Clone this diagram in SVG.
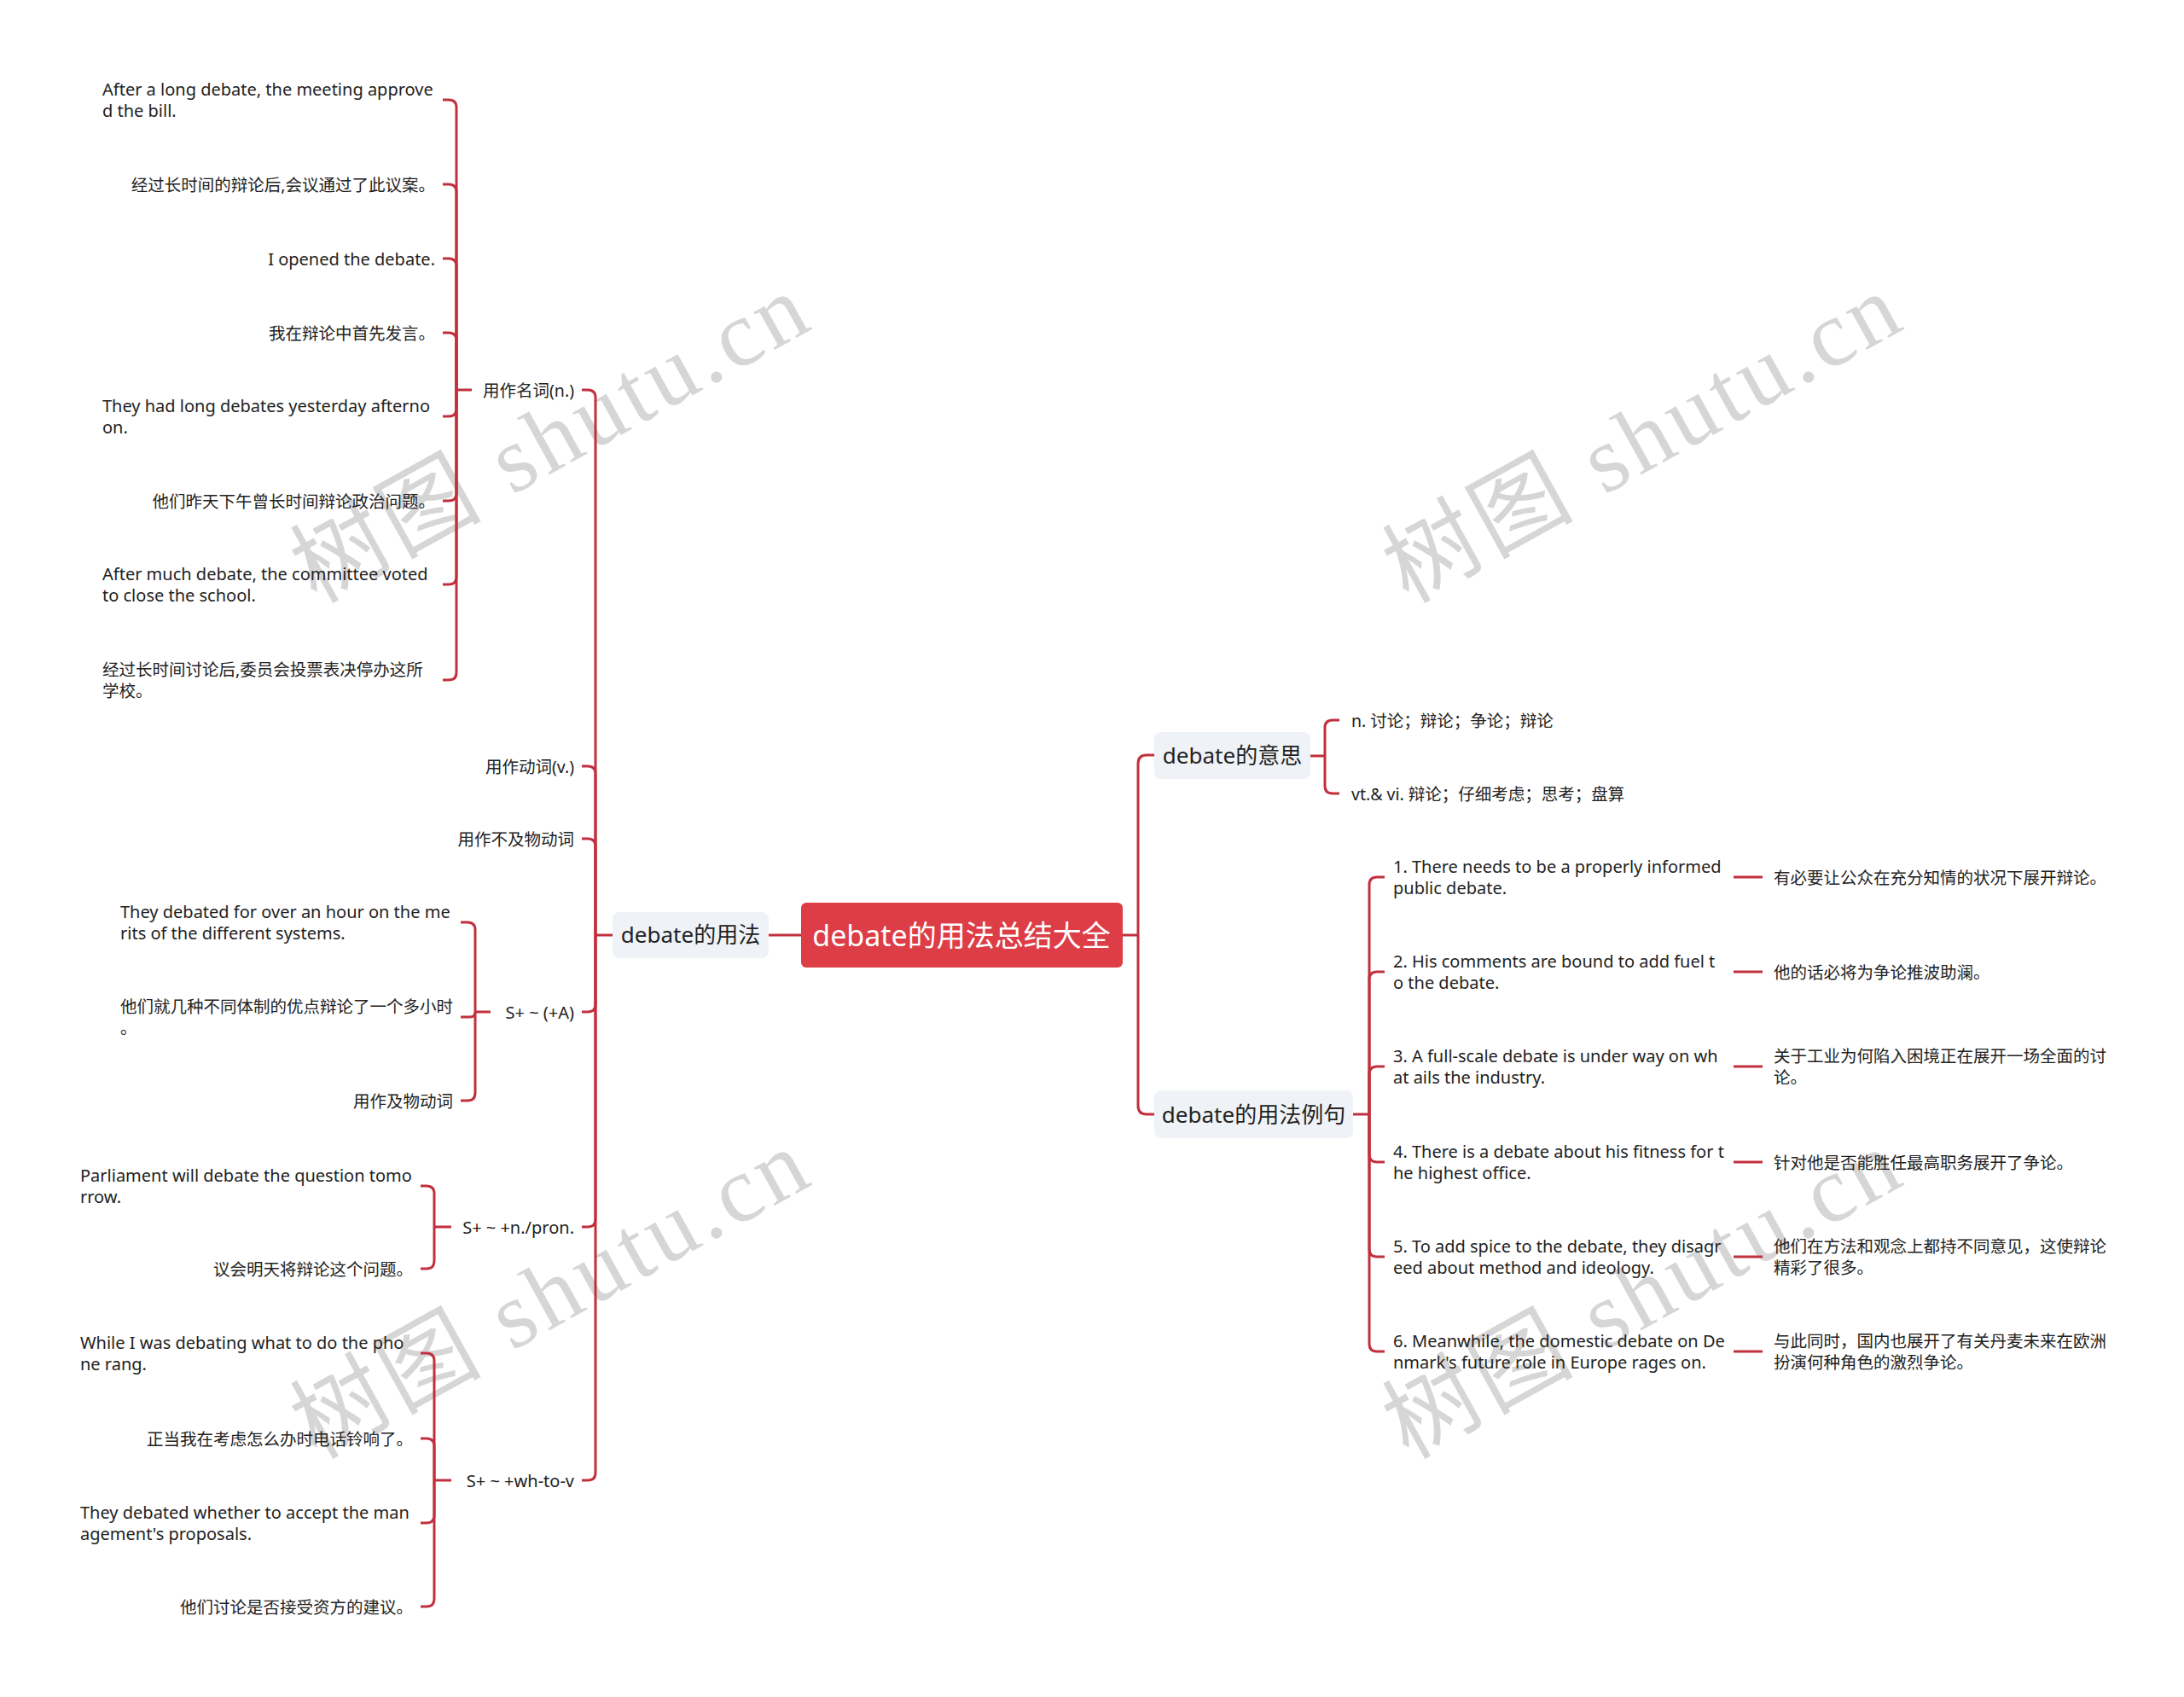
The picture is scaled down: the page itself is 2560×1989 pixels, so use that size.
<svg xmlns="http://www.w3.org/2000/svg" width="2560" height="1989" viewBox="0 0 2560 1989">
<style>
.t{font-family:"Noto Sans","Noto Sans CJK SC",sans-serif;font-size:20px;fill:#222}
.z{font-size:19.5px}
.e{text-anchor:end}
.l1{font-size:26px;fill:#222;text-anchor:middle}
.root{font-size:34px;fill:#fff;text-anchor:middle}
.box{fill:#eff2f6}
.rbox{fill:#dc3d46}
.c{fill:none;stroke:#c1303d;stroke-width:3}
.wm{font-family:"Liberation Serif","Noto Sans CJK SC",serif;font-size:110px;fill:#d6d6d6;letter-spacing:5px;text-anchor:middle}
</style>
<rect width="2560" height="1989" fill="#fff"/>
<g id="watermarks">
<text class="wm" transform="translate(645,510) rotate(-29)" x="0" y="40">树图 shutu.cn</text>
<text class="wm" transform="translate(1925,510) rotate(-29)" x="0" y="40">树图 shutu.cn</text>
<text class="wm" transform="translate(645,1513) rotate(-29)" x="0" y="40">树图 shutu.cn</text>
<text class="wm" transform="translate(1925,1513) rotate(-29)" x="0" y="40">树图 shutu.cn</text>
</g>
<g id="connectors">
<path class="c" d="M939 1096H901"/>
<path class="c" d="M718 1096H698"/>
<path class="c" d="M682 457H689Q698 457 698 466V1096"/>
<path class="c" d="M682 898H689Q698 898 698 907V1096"/>
<path class="c" d="M682 983H689Q698 983 698 992V1096"/>
<path class="c" d="M682 1186H689Q698 1186 698 1177V1096"/>
<path class="c" d="M682 1438H689Q698 1438 698 1429V1096"/>
<path class="c" d="M682 1735H689Q698 1735 698 1726V1096"/>
<path class="c" d="M553 457H535"/>
<path class="c" d="M519 117H526Q535 117 535 126V457"/>
<path class="c" d="M519 216H526Q535 216 535 225V457"/>
<path class="c" d="M519 303H526Q535 303 535 312V457"/>
<path class="c" d="M519 390H526Q535 390 535 399V457"/>
<path class="c" d="M519 488H526Q535 488 535 479V457"/>
<path class="c" d="M519 587H526Q535 587 535 578V457"/>
<path class="c" d="M519 685H526Q535 685 535 676V457"/>
<path class="c" d="M519 797H526Q535 797 535 788V457"/>
<path class="c" d="M575 1186H557"/>
<path class="c" d="M540 1081H548Q557 1081 557 1090V1186"/>
<path class="c" d="M540 1192H551Q557 1192 557 1186"/>
<path class="c" d="M540 1290H548Q557 1290 557 1281V1186"/>
<path class="c" d="M529 1438H509"/>
<path class="c" d="M493 1390H500Q509 1390 509 1399V1438"/>
<path class="c" d="M493 1487H500Q509 1487 509 1478V1438"/>
<path class="c" d="M529 1735H509"/>
<path class="c" d="M493 1586H500Q509 1586 509 1595V1735"/>
<path class="c" d="M493 1686H500Q509 1686 509 1695V1735"/>
<path class="c" d="M493 1785H500Q509 1785 509 1776V1735"/>
<path class="c" d="M493 1883H500Q509 1883 509 1874V1735"/>
<path class="c" d="M1316 1096H1334"/>
<path class="c" d="M1353 885H1344Q1334 885 1334 895V1096"/>
<path class="c" d="M1353 1306H1344Q1334 1306 1334 1296V1096"/>
<path class="c" d="M1536 886H1553"/>
<path class="c" d="M1570 844H1562Q1553 844 1553 853V886"/>
<path class="c" d="M1570 930H1562Q1553 930 1553 921V886"/>
<path class="c" d="M1586 1306H1605"/>
<path class="c" d="M1623 1028H1614Q1605 1028 1605 1037V1306"/>
<path class="c" d="M1623 1139H1614Q1605 1139 1605 1148V1306"/>
<path class="c" d="M1623 1250H1614Q1605 1250 1605 1259V1306"/>
<path class="c" d="M1623 1362H1614Q1605 1362 1605 1353V1306"/>
<path class="c" d="M1623 1473H1614Q1605 1473 1605 1464V1306"/>
<path class="c" d="M1623 1584H1614Q1605 1584 1605 1575V1306"/>
<path class="c" d="M2032 1028H2066"/>
<path class="c" d="M2032 1139H2066"/>
<path class="c" d="M2032 1250H2066"/>
<path class="c" d="M2032 1362H2066"/>
<path class="c" d="M2032 1473H2066"/>
<path class="c" d="M2032 1584H2066"/>
</g>
<g id="root">
<rect class="rbox" x="939" y="1058" width="377" height="76" rx="6"/>
<text class="t root" x="1127" y="1109">debate的用法总结大全</text>
</g>
<g id="n-usage">
<rect class="box" x="718" y="1069" width="183" height="54" rx="8"/>
<text class="t l1" x="809.5" y="1105">debate的用法</text>
</g>
<g id="n-meaning">
<rect class="box" x="1353" y="858" width="183" height="55" rx="8"/>
<text class="t l1" x="1444.5" y="895">debate的意思</text>
</g>
<g id="n-examples">
<rect class="box" x="1353" y="1278" width="233" height="56" rx="8"/>
<text class="t l1" x="1469.5" y="1316">debate的用法例句</text>
</g>
<g id="n-noun"><text class="t z e" x="673" y="465">用作名词(n.)</text></g>
<g id="n-verb"><text class="t z e" x="673" y="906">用作动词(v.)</text></g>
<g id="n-vi"><text class="t z e" x="673" y="991">用作不及物动词</text></g>
<g id="n-sa"><text class="t e" x="673" y="1194">S+ ~ (+A)</text></g>
<g id="n-snp"><text class="t e" x="673" y="1446">S+ ~ +n./pron.</text></g>
<g id="n-swh"><text class="t e" x="673" y="1743">S+ ~ +wh-to-v</text></g>
<g id="n-c1"><text class="t" x="120" y="112"><tspan x="120">After a long debate, the meeting approve</tspan><tspan x="120" y="137">d the bill.</tspan></text></g>
<g id="n-c2"><text class="t z e" x="510" y="224">经过长时间的辩论后,会议通过了此议案。</text></g>
<g id="n-c3"><text class="t e" x="510" y="311">I opened the debate.</text></g>
<g id="n-c4"><text class="t z e" x="510" y="398">我在辩论中首先发言。</text></g>
<g id="n-c5"><text class="t" x="120" y="483"><tspan x="120">They had long debates yesterday afterno</tspan><tspan x="120" y="508">on.</tspan></text></g>
<g id="n-c6"><text class="t z e" x="510" y="595">他们昨天下午曾长时间辩论政治问题。</text></g>
<g id="n-c7"><text class="t" x="120" y="680"><tspan x="120">After much debate, the committee voted</tspan><tspan x="120" y="705">to close the school.</tspan></text></g>
<g id="n-c8"><text class="t z" x="120" y="792"><tspan x="120">经过长时间讨论后,委员会投票表决停办这所</tspan><tspan x="120" y="817">学校。</tspan></text></g>
<g id="n-a1"><text class="t" x="141" y="1076"><tspan x="141">They debated for over an hour on the me</tspan><tspan x="141" y="1101">rits of the different systems.</tspan></text></g>
<g id="n-a2"><text class="t z" x="141" y="1187"><tspan x="141">他们就几种不同体制的优点辩论了一个多小时</tspan><tspan x="141" y="1212">。</tspan></text></g>
<g id="n-a3"><text class="t z e" x="531" y="1298">用作及物动词</text></g>
<g id="n-p1"><text class="t" x="94" y="1385"><tspan x="94">Parliament will debate the question tomo</tspan><tspan x="94" y="1410">rrow.</tspan></text></g>
<g id="n-p2"><text class="t z e" x="484" y="1495">议会明天将辩论这个问题。</text></g>
<g id="n-w1"><text class="t" x="94" y="1581"><tspan x="94">While I was debating what to do the pho</tspan><tspan x="94" y="1606">ne rang.</tspan></text></g>
<g id="n-w2"><text class="t z e" x="484" y="1694">正当我在考虑怎么办时电话铃响了。</text></g>
<g id="n-w3"><text class="t" x="94" y="1780"><tspan x="94">They debated whether to accept the man</tspan><tspan x="94" y="1805">agement's proposals.</tspan></text></g>
<g id="n-w4"><text class="t z e" x="484" y="1891">他们讨论是否接受资方的建议。</text></g>
<g id="n-m1"><text class="t z" x="1584" y="852">n. 讨论；辩论；争论；辩论</text></g>
<g id="n-m2"><text class="t z" x="1584" y="938">vt.&amp; vi. 辩论；仔细考虑；思考；盘算</text></g>
<g id="n-ex1"><text class="t" x="1633" y="1023"><tspan x="1633">1. There needs to be a properly informed</tspan><tspan x="1633" y="1048">public debate.</tspan></text></g>
<g id="n-ex2"><text class="t" x="1633" y="1134"><tspan x="1633">2. His comments are bound to add fuel t</tspan><tspan x="1633" y="1159">o the debate.</tspan></text></g>
<g id="n-ex3"><text class="t" x="1633" y="1245"><tspan x="1633">3. A full-scale debate is under way on wh</tspan><tspan x="1633" y="1270">at ails the industry.</tspan></text></g>
<g id="n-ex4"><text class="t" x="1633" y="1357"><tspan x="1633">4. There is a debate about his fitness for t</tspan><tspan x="1633" y="1382">he highest office.</tspan></text></g>
<g id="n-ex5"><text class="t" x="1633" y="1468"><tspan x="1633">5. To add spice to the debate, they disagr</tspan><tspan x="1633" y="1493">eed about method and ideology.</tspan></text></g>
<g id="n-ex6"><text class="t" x="1633" y="1579"><tspan x="1633">6. Meanwhile, the domestic debate on De</tspan><tspan x="1633" y="1604">nmark's future role in Europe rages on.</tspan></text></g>
<g id="n-tr1"><text class="t z" x="2079" y="1036">有必要让公众在充分知情的状况下展开辩论。</text></g>
<g id="n-tr2"><text class="t z" x="2079" y="1147">他的话必将为争论推波助澜。</text></g>
<g id="n-tr3"><text class="t z" x="2079" y="1245"><tspan x="2079">关于工业为何陷入困境正在展开一场全面的讨</tspan><tspan x="2079" y="1270">论。</tspan></text></g>
<g id="n-tr4"><text class="t z" x="2079" y="1370">针对他是否能胜任最高职务展开了争论。</text></g>
<g id="n-tr5"><text class="t z" x="2079" y="1468"><tspan x="2079">他们在方法和观念上都持不同意见，这使辩论</tspan><tspan x="2079" y="1493">精彩了很多。</tspan></text></g>
<g id="n-tr6"><text class="t z" x="2079" y="1579"><tspan x="2079">与此同时，国内也展开了有关丹麦未来在欧洲</tspan><tspan x="2079" y="1604">扮演何种角色的激烈争论。</tspan></text></g>
</svg>
